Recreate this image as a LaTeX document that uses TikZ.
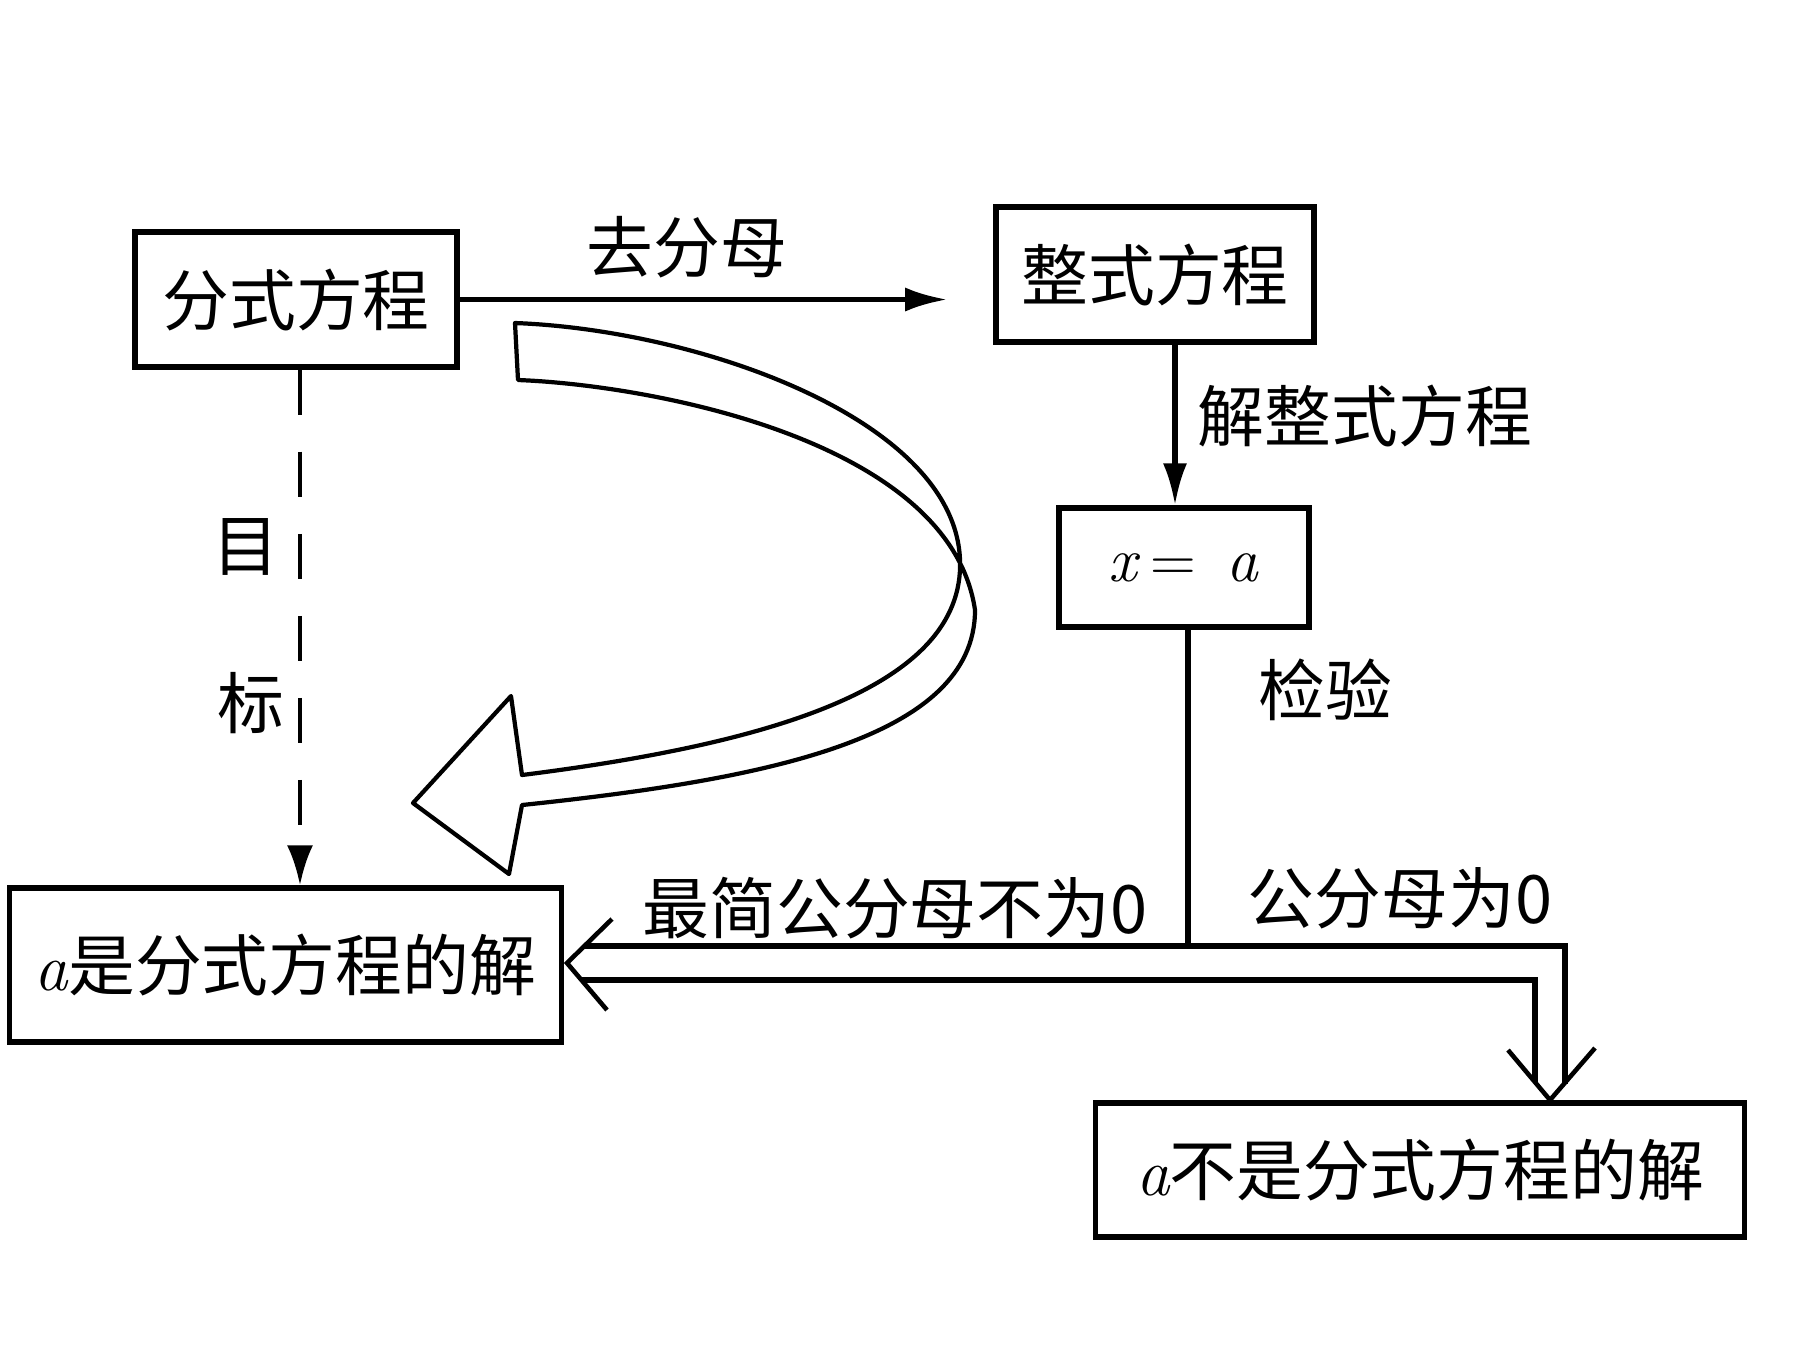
\documentclass[tikz,border=0pt]{standalone}
\usepackage{fontspec}
\newfontfamily\cjk{Noto Sans CJK SC}
\usetikzlibrary{arrows.meta}
\newcommand\va{{\normalfont\itshape a}}
\begin{document}
\begin{tikzpicture}[x=0.01cm,y=-0.01cm,
  box/.style={draw,line width=1.5pt,inner sep=0pt,font=\cjk\fontsize{19}{22}\selectfont},
  lbl/.style={inner sep=0pt,font=\cjk\fontsize{19}{22}\selectfont},
  conn/.style={line width=1.5pt},
  tipA/.style={-{Latex[length=0.42cm,width=0.24cm]}},
  hollow/.style={line width=1.2pt,line join=round},
  vhead/.style={line width=1.3pt,line join=miter}
]
\fill[white] (0,0) rectangle (1800,1350);
\useasboundingbox (0,0) rectangle (1800,1350);

% boxes
\node[box,minimum width=3.22cm,minimum height=1.35cm] (b1) at (296,299.5) {分式方程};
\node[box,minimum width=3.18cm,minimum height=1.35cm] (b2) at (1155,274.5) {整式方程};
\node[box,minimum width=2.50cm,minimum height=1.19cm,font=\fontsize{18}{22}\selectfont] (b3) at (1184,567.5) {\textit{x}\hspace{0.1cm}=\hspace{0.3cm}\textit{a}};
\node[box,minimum width=5.51cm,minimum height=1.54cm] (b4) at (285.5,965) {\va 是分式方程的解};
\node[box,minimum width=6.48cm,minimum height=1.34cm] (b5) at (1420,1170) {\va 不是分式方程的解};

% 去分母
\draw[conn,tipA,shorten >=0.46cm] (b1.east) -- (b2.west |- b1.east);
\node[lbl] (l1) at (687,247) {去分母};

% 解整式方程
\coordinate (v1) at (1175,0);
\draw[conn,tipA] (b2.south -| v1) -- (b3.north -| v1);
\node[lbl] (l2) at (1365,416) {解整式方程};

% 检验
\coordinate (j) at (1188,946);
\draw[conn] (b3.south -| j) -- (j);
\node[lbl] (l3) at (1325,690) {检验};

% double hollow arrow
\coordinate (L1) at (584,946);
\coordinate (R1) at (1565,946);
\coordinate (R1e) at (1565,1084);
\coordinate (L2) at (581,980);
\coordinate (R2) at (1535,980);
\coordinate (R2e) at (1535,1082);
\draw[conn] (L1) -- (R1) -- (R1e);
\draw[conn] (L2) -- (R2) -- (R2e);
\coordinate (hl) at (567,963);
\coordinate (hlu) at (612,919);
\coordinate (hld) at (607,1010);
\draw[vhead] (hlu) -- (hl) -- (hld);
\coordinate (hb) at (1550,1100);
\coordinate (hbl) at (1508,1050);
\coordinate (hbr) at (1595,1048);
\draw[vhead] (hbl) -- (hb) -- (hbr);
\node[lbl] (l4) at (895,908) {最简公分母不为0};
\node[lbl] (l5) at (1400,898) {公分母为0};

% dashed target arrow
\coordinate (d) at (300,0);
\draw[line width=1.3pt,dash pattern=on 0.45cm off 0.37cm,-{Latex[length=0.4cm,width=0.26cm]}] (b1.south -| d) -- (b4.north -| d);
\node[lbl] (l6) at (246,547) {目};
\node[lbl] (l7) at (251,703) {标};

% big curved hollow arrow
\draw[hollow] (515,323) .. controls (700,330) and (955,420) .. (960,560)
  .. controls (965,690) and (760,745) .. (522,775)
  -- (511,696) -- (413,803) -- (509,874) -- (522,805)
  .. controls (760,780) and (975,740) .. (975,610)
  .. controls (950,440) and (650,385) .. (518,380) -- cycle;
\end{tikzpicture}
\end{document}
